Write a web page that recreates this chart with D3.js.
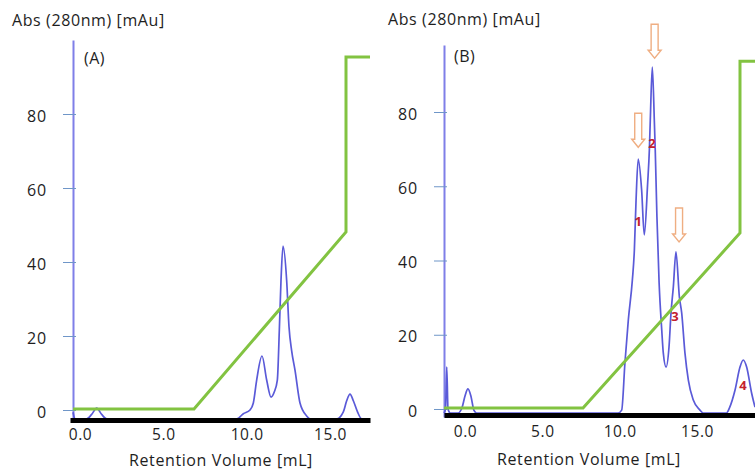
<!DOCTYPE html>
<html>
<head>
<meta charset="utf-8">
<script src="https://cdn.jsdelivr.net/npm/d3@7"></script>
<style>
  body { margin: 0; background: #fff; }
  svg { display: block; }
  text { font-family: "Open Sans", sans-serif; fill: #1e1e1e; }
</style>
</head>
<body>
<svg id="chart" width="755" height="470"></svg>
<script>
// Axis tick values shared by both chromatograms
const xTickValues = [0, 5, 10, 15];
const yTickValues = [0, 20, 40, 60, 80];

// Run A: absorbance trace, [retention volume mL, mAu]
const traceA = [
  [-0.42, -0.6], [-0.3, -2.4], [0.4, -2.4], [0.7, -1.2], [1.0, 0.5], [1.3, -1.2], [1.6, -2.4],
  [9.4, -2.4], [9.8, -1.0], [10.2, 0.0], [10.4, 1.9], [10.6, 8.1], [10.92, 14.6], [11.2, 8.1],
  [11.46, 3.5], [11.65, 4.8], [11.84, 8.1], [11.96, 21.6], [12.06, 35.0], [12.18, 44.3],
  [12.4, 35.0], [12.54, 22.5], [12.7, 16.0], [12.9, 10.8], [13.2, 1.9], [13.6, -1.6], [13.8, -2.4],
  [15.4, -2.4], [15.8, -0.5], [16.0, 2.5], [16.2, 4.3], [16.4, 2.5], [16.65, -0.5], [16.9, -2.4],
  [17.4, -2.4]
];
// Run A: elution gradient
const gradientA = [[-0.42, 0.3], [6.84, 0.3], [15.96, 48.1], [15.96, 95.4], [17.4, 95.4]];

// Run B: absorbance trace, [retention volume mL, mAu]
const traceB = [
  [-1.36, -1.1], [-1.26, 0.0], [-1.18, 11.3], [-1.1, 0.0], [-0.95, -1.1], [-0.45, -1.1],
  [-0.19, 0.4], [0.0, 3.5], [0.19, 5.4], [0.38, 3.5], [0.58, -0.4], [0.75, -1.1],
  [9.9, -1.1], [10.13, -0.3], [10.34, 12.4], [10.56, 24.0], [10.82, 34.7], [10.95, 42.8],
  [11.06, 56.3], [11.2, 67.3], [11.42, 59.0], [11.59, 46.9], [11.81, 60.9], [11.92, 69.8],
  [11.98, 77.8], [12.11, 92.1], [12.24, 77.8], [12.3, 69.8], [12.41, 51.7], [12.55, 34.0],
  [12.72, 21.3], [12.82, 15.1], [13.0, 11.3], [13.19, 16.7], [13.32, 25.9], [13.47, 32.9],
  [13.64, 42.3], [13.86, 30.2], [14.01, 25.9], [14.22, 15.1], [14.44, 7.8], [14.76, 2.4],
  [15.19, -0.3], [15.4, -1.1], [16.9, -1.1], [17.1, 0.3], [17.46, 5.1], [17.78, 11.3],
  [17.99, 13.2], [18.21, 11.3], [18.53, 4.3], [18.75, 0.5]
];
// Run B: elution gradient
const gradientB = [[-1.36, 0.3], [7.63, 0.3], [17.78, 47.4], [17.78, 93.7], [18.75, 93.7]];

// Run B: collected fractions (label position) and arrow markers (tip position)
const fractionLabels = [
  { name: "1", x: 11.2, y: 50.6 },
  { name: "2", x: 12.09, y: 71.6 },
  { name: "3", x: 13.58, y: 25.0 },
  { name: "4", x: 17.97, y: 6.5 }
];
const fractionArrows = [[11.2, 70.5], [12.26, 94.5], [13.84, 45.0]];

const svg = d3.select("#chart");

const COLORS = {
  trace: "#5a5ad8",
  yAxis: "#7f7fe8",
  tick: "#6f96c8",
  gradient: "#82c341",
  arrow: "#efae82",
  label: "#c3202d",
  text: "#1e1e1e"
};

// Pixel layout of each panel
const panels = [
  {
    tag: "(A)", trace: traceA, gradient: gradientA,
    xDomain: [-0.6, 17.4], xRange: [70, 370],
    yDomain: [-2.7, 100], yRange: [420, 40],
    axisX: 73, baseY: 420, labelPad: 9,
    title: { x: 12, y: 26 }, tagPos: { x: 84, y: 64 },
    xTitle: { x: 221, y: 466 }
  },
  {
    tag: "(B)", trace: traceB, gradient: gradientB,
    xDomain: [-1.358, 18.75], xRange: [444, 755],
    yDomain: [-2.155, 98.05], yRange: [417, 45],
    axisX: 444, baseY: 415, labelPad: 11,
    title: { x: 388, y: 25 }, tagPos: { x: 454, y: 62 },
    xTitle: { x: 589, y: 465 },
    labels: fractionLabels, arrows: fractionArrows
  }
];

panels.forEach(p => {
  const x = d3.scaleLinear().domain(p.xDomain).range(p.xRange);
  const y = d3.scaleLinear().domain(p.yDomain).range(p.yRange);
  const g = svg.append("g");

  // y axis: blue line with ticks crossing it
  const yAxis = g.append("g")
    .attr("transform", `translate(${p.axisX},0)`)
    .call(d3.axisLeft(y).tickValues(yTickValues).tickFormat(d3.format("d"))
      .tickSizeInner(10).tickSizeOuter(0).tickPadding(16));
  yAxis.select(".domain").attr("stroke", COLORS.yAxis).attr("stroke-width", 2);
  yAxis.selectAll(".tick line").attr("stroke", COLORS.tick).attr("x1", 3).attr("stroke-width", 1);
  yAxis.selectAll(".tick text").attr("font-size", 16).attr("font-family", "Open Sans")
    .attr("letter-spacing", 0.8).attr("fill", COLORS.text).attr("dy", "0.45em");

  // absorbance trace
  const line = d3.line().x(d => x(d[0])).y(d => y(d[1])).curve(d3.curveMonotoneX);
  g.append("path").datum(p.trace)
    .attr("d", line).attr("fill", "none")
    .attr("stroke", COLORS.trace).attr("stroke-width", 1.7).attr("stroke-linejoin", "round");

  // gradient
  const gline = d3.line().x(d => x(d[0])).y(d => y(d[1]));
  g.append("path").datum(p.gradient)
    .attr("d", gline).attr("fill", "none")
    .attr("stroke", COLORS.gradient).attr("stroke-width", 3).attr("stroke-linejoin", "miter");

  // x axis: thick black baseline with tick labels
  const xAxis = g.append("g")
    .attr("transform", `translate(0,${p.baseY})`)
    .call(d3.axisBottom(x).tickValues(xTickValues).tickFormat(d3.format(".1f"))
      .tickSize(0).tickPadding(p.labelPad));
  xAxis.select(".domain").attr("stroke", "#000").attr("stroke-width", 5);
  xAxis.selectAll(".tick text").attr("font-size", 15.5).attr("font-family", "Open Sans")
    .attr("letter-spacing", 0.6).attr("fill", COLORS.text);

  // titles
  g.append("text").attr("x", p.title.x).attr("y", p.title.y)
    .attr("font-size", 16).attr("letter-spacing", 0.6).text("Abs (280nm)  [mAu]");
  g.append("text").attr("x", p.xTitle.x).attr("y", p.xTitle.y)
    .attr("text-anchor", "middle").attr("font-size", 16).attr("letter-spacing", 0.6)
    .text("Retention Volume [mL]");
  g.append("text").attr("x", p.tagPos.x).attr("y", p.tagPos.y)
    .attr("font-size", 16).attr("letter-spacing", 0.5).text(p.tag);

  // hollow arrows over collected peaks
  if (p.arrows) {
    const arrowPath = (cx, tip) => {
      const h = 34, sw = 3.5, hw = 6.5, hl = 8;
      return `M${cx - sw},${tip - h} H${cx + sw} V${tip - hl} H${cx + hw} L${cx},${tip} L${cx - hw},${tip - hl} H${cx - sw} Z`;
    };
    g.selectAll(".arrow").data(p.arrows).join("path")
      .attr("class", "arrow")
      .attr("d", d => arrowPath(x(d[0]), y(d[1])))
      .attr("fill", "#fff").attr("stroke", COLORS.arrow).attr("stroke-width", 1.4);
  }

  // fraction numbers
  if (p.labels) {
    g.selectAll(".flabel").data(p.labels).join("text")
      .attr("class", "flabel")
      .attr("x", d => x(d.x)).attr("y", d => y(d.y))
      .attr("dy", "0.36em").attr("text-anchor", "middle")
      .attr("font-size", 13).attr("font-weight", "bold")
      .style("fill", COLORS.label)
      .text(d => d.name);
  }
});
</script>
</body>
</html>
